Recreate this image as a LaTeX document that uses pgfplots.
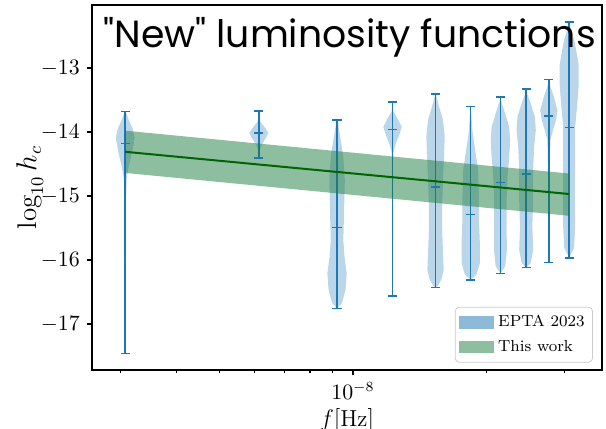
\documentclass[border=0pt]{standalone}
\usepackage{fontspec}
\newfontfamily\titlefont[Ligatures=TeXOff]{Poppins}
\usepackage{pgfplots}
\usepackage{pgfplotstable}
\pgfplotsset{compat=1.18}

\definecolor{Cblue}{RGB}{31,119,180}
\definecolor{bandgreen}{RGB}{30,125,65}
\definecolor{lgreen}{RGB}{0,100,0}

% violin outlines: y (data) and half width w (px, 444 px per decade)
\pgfplotstableread{
y w
-17.46 0
-17.0 0.6
-16.0 0.8
-15.0 1
-14.72 1.5
-14.52 3.7
-14.33 6.7
-14.09 9.5
-13.95 7.5
-13.81 3.5
-13.72 1.5
-13.68 0
}\vA
\pgfplotstableread{
y w
-14.41 0
-14.33 0.8
-14.25 1.5
-14.17 4
-14.08 7.5
-14.01 9.5
-13.93 6
-13.84 1.5
-13.75 0.6
-13.67 0
}\vB
\pgfplotstableread{
y w
-16.76 0
-16.67 5
-16.47 8.5
-16.21 9.7
-15.95 7.5
-15.69 6.3
-15.27 7
-14.75 7.8
-14.39 6.3
-14.125 3.7
-13.86 1
-13.81 0
}\vC
\pgfplotstableread{
y w
-16.56 0
-15.5 0.6
-14.5 0.6
-14.31 1
-14.18 3.3
-14.05 6.7
-13.92 9.2
-13.79 5
-13.68 1
-13.53 0
}\vD
\pgfplotstableread{
y w
-16.43 0
-16.41 2
-16.31 5.8
-16.16 8.2
-15.90 7.5
-15.53 6.7
-15.17 6.7
-14.75 7.5
-14.39 8.5
-14.07 9.2
-13.81 7.5
-13.60 3.5
-13.45 1
-13.41 0
}\vE
\pgfplotstableread{
y w
-16.31 0
-16.23 5.8
-16.05 9.2
-15.74 9.2
-15.38 8.3
-14.96 8.2
-14.59 7.5
-14.28 4.5
-14.02 2
-13.76 0.8
-13.60 0
}\vF
\pgfplotstableread{
y w
-16.21 0
-16.10 4.8
-15.84 6.5
-15.48 6.2
-15.06 6.3
-14.70 7.2
-14.39 8.8
-14.13 9.7
-13.92 8.8
-13.71 4.8
-13.53 1
-13.45 0
}\vG
\pgfplotstableread{
y w
-16.12 0
-16.05 4.5
-15.84 7
-15.48 6.2
-15.06 7
-14.59 7
-14.23 8
-13.97 9.7
-13.76 8.7
-13.55 4.5
-13.40 1
-13.33 0
}\vH
\pgfplotstableread{
y w
-16.04 0
-15.0 0.6
-14.13 1.5
-13.97 4.2
-13.81 7.2
-13.66 8.7
-13.45 5
-13.29 1.5
-13.18 0
}\vI
\pgfplotstableread{
y w
-15.97 0
-15.81 5
-15.48 6
-14.98 6
-14.44 6
-13.92 6
-13.58 8
-13.27 9.5
-12.95 9.5
-12.72 7
-12.56 5
-12.41 2
-12.28 0
}\vJ

\pgfplotsset{
  vfill/.style={fill=Cblue, fill opacity=0.3, draw=none, forget plot},
  legsw/.style={legend image code/.code={\fill[##1, draw=none, sharp corners] (0pt,-3.1pt) rectangle (17.5pt,3.1pt);}},
}
\newcommand\violin[2]{%
  \addplot[vfill] table[x expr={#1*10^(\thisrow{w}/444)}, y=y]{#2} -- cycle;
  \addplot[vfill] table[x expr={#1*10^(-\thisrow{w}/444)}, y=y]{#2} -- cycle;
}
% f, bottom, top, median
\newcommand\vbar[4]{%
  \addplot[Cblue, line width=0.75pt, forget plot] coordinates {(#1,#2) (#1,#3)};
  \addplot[Cblue, only marks, mark=-, mark size=2.3pt, mark options={line width=0.75pt}, forget plot]
    coordinates {(#1,#2) (#1,#3) (#1,#4)};
}

\begin{document}
\begin{tikzpicture}
\begin{axis}[
  at={(0,0)}, anchor=south west,
  scale only axis, width=255pt, height=182.5pt,
  xmode=log, xmin=2.582e-9, xmax=3.637e-8,
  ymin=-17.72, ymax=-12.016,
  ytick={-17,-16,-15,-14,-13},
  xtick={1e-8}, xticklabels={$10^{-8}$},
  minor xtick={3e-9,4e-9,5e-9,6e-9,7e-9,8e-9,9e-9,2e-8,3e-8},
  axis line style={line width=1pt},
  tick align=outside, xtick pos=bottom, ytick pos=left,
  major tick length=2.6pt, minor tick length=1.6pt,
  every tick/.style={black, line width=0.6pt},
  tick label style={font=\fontsize{10.5}{12}\selectfont},
  xlabel={$f[\mathrm{Hz}]$},
  ylabel={$\log_{10} h_c$},
  xlabel style={font=\fontsize{11.6}{13}\selectfont, yshift=2pt},
  ylabel style={font=\fontsize{13.5}{15}\selectfont, yshift=-8pt},
  legend style={at={(0.9824,0.0203)}, anchor=south east,
    font=\fontsize{8}{9}\selectfont, draw=black!20, rounded corners=2pt,
    fill=white, cells={anchor=west}, row sep=1.2pt, inner xsep=2pt, inner ysep=2pt},
]
\violin{3.068e-9}{\vA}
\violin{6.136e-9}{\vB}
\violin{9.204e-9}{\vC}
\violin{1.2272e-8}{\vD}
\violin{1.534e-8}{\vE}
\violin{1.8408e-8}{\vF}
\violin{2.1476e-8}{\vG}
\violin{2.4544e-8}{\vH}
\violin{2.7612e-8}{\vI}
\violin{3.068e-8}{\vJ}

\vbar{3.068e-9}{-17.46}{-13.68}{-14.18}
\vbar{6.136e-9}{-14.41}{-13.67}{-14.02}
\vbar{9.204e-9}{-16.76}{-13.81}{-15.49}
\vbar{1.2272e-8}{-16.56}{-13.53}{-13.96}
\vbar{1.534e-8}{-16.43}{-13.41}{-14.86}
\vbar{1.8408e-8}{-16.31}{-13.60}{-15.29}
\vbar{2.1476e-8}{-16.21}{-13.45}{-14.79}
\vbar{2.4544e-8}{-16.12}{-13.33}{-14.66}
\vbar{2.7612e-8}{-16.04}{-13.18}{-13.75}
\vbar{3.068e-8}{-15.97}{-12.28}{-13.93}

\addplot[fill=bandgreen, fill opacity=0.5, draw=none, forget plot]
  coordinates {(3.068e-9,-13.98) (3.068e-8,-14.65) (3.068e-8,-15.31) (3.068e-9,-14.64)} -- cycle;
\addplot[lgreen, line width=1pt, forget plot]
  coordinates {(3.068e-9,-14.31) (3.068e-8,-14.97)};

\addlegendimage{legsw, fill=Cblue, fill opacity=0.5}
\addlegendentry{EPTA 2023}
\addlegendimage{legsw, fill=bandgreen, fill opacity=0.5}
\addlegendentry{This work}
\end{axis}
\node[anchor=base west, inner sep=0pt, font=\titlefont\fontsize{18.9}{22}\selectfont]
  at (5.5pt,161pt) {"New" luminosity functions};
\pgfresetboundingbox
\path[use as bounding box] (-46pt,-29.5pt) rectangle (257pt,185pt);
\end{tikzpicture}
\end{document}
